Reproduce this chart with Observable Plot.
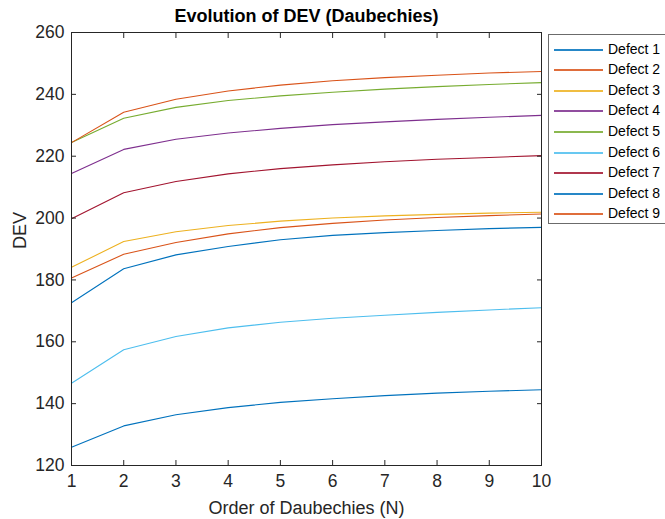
<!DOCTYPE html>
<html><head><meta charset="utf-8">
<script src="https://cdn.jsdelivr.net/npm/d3@7"></script>
<script src="https://cdn.jsdelivr.net/npm/@observablehq/plot@0.6"></script>
<style>
body{margin:0;background:#fff;font-family:"Liberation Sans",Arial,sans-serif;}
#wrap{position:relative;width:665px;height:519px;overflow:hidden;}
#legend{position:absolute;left:548px;top:34px;width:140px;height:190px;border:1px solid #6b6b6b;background:#fff;box-sizing:border-box;}
.item{position:absolute;left:0;height:20px;width:140px;}
.item .sw{position:absolute;left:5px;top:10px;width:49px;height:2px;opacity:0.85;}
.item span{position:absolute;left:59px;top:0;line-height:20px;font-size:14px;color:#000;white-space:nowrap;}
</style></head><body><div id="wrap"></div>
<script>
const orders = [1, 2, 3, 4, 5, 6, 7, 8, 9, 10];
const seriesNames = ["Defect 1","Defect 2","Defect 3","Defect 4","Defect 5","Defect 6","Defect 7","Defect 8","Defect 9"];
const defect1 = [172.6, 183.6, 188.1, 190.8, 193.0, 194.4, 195.3, 196.0, 196.6, 197.0];
const defect2 = [180.6, 188.3, 192.1, 194.9, 196.9, 198.3, 199.4, 200.2, 200.8, 201.3];
const defect3 = [184.1, 192.4, 195.6, 197.6, 199.0, 200.0, 200.7, 201.2, 201.6, 201.9];
const defect4 = [214.4, 222.2, 225.5, 227.5, 229.0, 230.2, 231.1, 231.9, 232.6, 233.2];
const defect5 = [224.4, 232.3, 235.8, 238.0, 239.5, 240.7, 241.7, 242.5, 243.2, 243.8];
const defect6 = [146.6, 157.4, 161.7, 164.5, 166.3, 167.6, 168.6, 169.5, 170.3, 171.0];
const defect7 = [199.8, 208.2, 211.8, 214.3, 216.0, 217.2, 218.2, 219.0, 219.6, 220.2];
const defect8 = [125.9, 132.8, 136.4, 138.7, 140.4, 141.6, 142.6, 143.4, 144.0, 144.5];
const defect9 = [224.4, 234.2, 238.4, 241.1, 243.0, 244.4, 245.4, 246.2, 246.9, 247.4];
const seriesValues = [defect1, defect2, defect3, defect4, defect5, defect6, defect7, defect8, defect9];
const seriesColors = ["#0072BD","#D95319","#EDB120","#7E2F8E","#77AC30","#4DBEEE","#A2142F","#0072BD","#D95319"];
const xTicks = [1, 2, 3, 4, 5, 6, 7, 8, 9, 10];
const yTicks = [120, 140, 160, 180, 200, 220, 240, 260];
const titleText = "Evolution of DEV (Daubechies)";
const xLabel = "Order of Daubechies (N)";
const yLabel = "DEV";

const rows = [];
seriesNames.forEach((name, i) => orders.forEach((o, j) => rows.push({series: name, order: o, dev: seriesValues[i][j]})));

const axisColor = "#262626";
const chart = Plot.plot({
  width: 665, height: 519,
  marginLeft: 71, marginRight: 124, marginTop: 32, marginBottom: 54,
  style: {fontFamily: '"Liberation Sans", Arial, sans-serif', fontSize: "17.5px", color: axisColor, background: "#fff"},
  x: {domain: [1, 10]},
  y: {domain: [120, 260]},
  color: {domain: seriesNames, range: seriesColors},
  marks: [
    Plot.line(rows, {x: "order", y: "dev", z: "series", stroke: "series", strokeWidth: 1.1}),
    Plot.frame({stroke: axisColor, strokeWidth: 1}),
    Plot.axisX({anchor: "bottom", ticks: xTicks, tickSize: -5, tickPadding: 14, label: null, fontSize: 17.5}),
    Plot.axisX({anchor: "top", ticks: xTicks, tickSize: -5, tickFormat: () => "", label: null}),
    Plot.axisY({anchor: "left", ticks: yTicks, tickSize: -5, tickPadding: 12, label: null, fontSize: 17.5}),
    Plot.axisY({anchor: "right", ticks: yTicks, tickSize: -5, tickFormat: () => "", label: null}),
    Plot.text([titleText], {text: d => d, frameAnchor: "top", lineAnchor: "middle", dy: -16, fontWeight: "bold", fontSize: 18, fill: "#000"}),
    Plot.text([xLabel], {text: d => d, frameAnchor: "bottom", lineAnchor: "middle", dy: 43, fontSize: 18, fill: axisColor}),
    Plot.text([yLabel], {text: d => d, frameAnchor: "left", lineAnchor: "middle", dx: -51, rotate: -90, fontSize: 18, fill: axisColor})
  ]
});
const wrap = document.getElementById("wrap");
wrap.appendChild(chart);

const legend = document.createElement("div");
legend.id = "legend";
seriesNames.forEach((name, i) => {
  const item = document.createElement("div");
  item.className = "item";
  item.style.top = Math.round(3.5 + i * 20.6) + "px";
  item.innerHTML = `<div class="sw" style="background-color:${seriesColors[i]}"></div><span>${name}</span>`;
  legend.appendChild(item);
});
wrap.appendChild(legend);
</script>
</body></html>
